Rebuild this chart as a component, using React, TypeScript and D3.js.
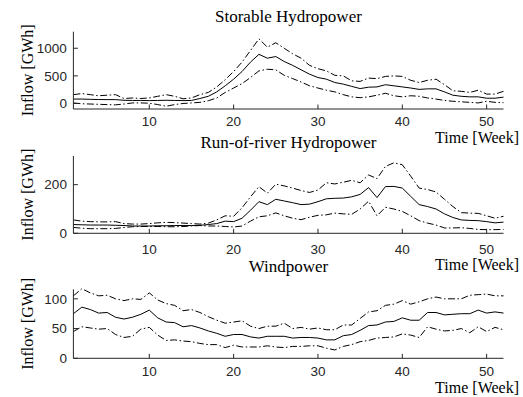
import React from "react";
import * as d3 from "d3";

// ---------- data ----------
const weeks = d3.range(1, 53);
const xTickValues = [10, 20, 30, 40, 50];

const storableMean = [80, 80, 75, 72, 70, 70, 58, 55, 55, 52, 55, 58, 55, 52, 55, 90, 130, 210, 320, 440, 580, 750, 890, 820, 850, 760, 690, 610, 530, 470, 440, 380, 350, 310, 270, 295, 300, 340, 320, 300, 280, 255, 265, 265, 210, 150, 130, 120, 120, 95, 95, 115];
const storableUpper = [160, 180, 160, 140, 150, 160, 90, 100, 90, 100, 130, 160, 130, 85, 100, 160, 200, 300, 430, 580, 750, 960, 1170, 1020, 1100, 1000, 900, 820, 690, 630, 590, 510, 500, 410, 400, 460, 450, 490, 500, 490, 420, 380, 420, 440, 340, 230, 220, 200, 240, 170, 170, 220];
const storableLower = [10, -5, -10, -15, -20, -25, -10, 10, 10, 5, -20, -50, -20, 0, 10, 20, 50, 100, 200, 280, 360, 470, 590, 620, 610, 510, 450, 390, 320, 280, 240, 210, 160, 120, 105, 120, 150, 185, 140, 120, 140, 130, 100, 80, 55, 40, 30, 20, 10, 40, 20, 15];

const rorMean = [36, 35, 34, 34, 34, 33, 32, 30, 30, 30, 31, 31, 32, 32, 32, 33, 36, 40, 50, 48, 62, 95, 130, 118, 140, 133, 126, 118, 120, 130, 142, 144, 145, 150, 160, 188, 147, 192, 193, 186, 152, 118, 110, 100, 80, 65, 55, 53, 52, 48, 43, 46];
const rorUpper = [55, 50, 48, 47, 47, 48, 40, 38, 38, 40, 43, 45, 44, 42, 40, 38, 42, 55, 72, 70, 105, 150, 192, 165, 202, 195, 186, 176, 168, 178, 208, 203, 210, 218, 208, 240, 225, 275, 290, 282, 235, 186, 180, 170, 140, 110, 85, 83, 82, 72, 62, 70];
const rorLower = [24, 21, 19, 19, 19, 20, 24, 27, 28, 28, 28, 27, 27, 28, 30, 32, 30, 30, 28, 26, 30, 50, 68, 72, 84, 72, 62, 56, 66, 74, 76, 83, 80, 78, 100, 132, 72, 107, 100, 90, 72, 52, 42, 34, 22, 22, 23, 20, 16, 15, 15, 16];

const windMean = [75, 86, 82, 76, 77, 69, 66, 69, 74, 81, 68, 61, 60, 53, 55, 51, 46, 42, 37, 40, 40, 36, 34, 37, 37, 37, 34, 35, 35, 34, 31, 31, 38, 40, 47, 55, 56, 61, 62, 68, 64, 64, 77, 77, 73, 74, 75, 75, 81, 76, 78, 76];
const windUpper = [105, 117, 110, 105, 106, 100, 97, 100, 99, 110, 98, 92, 89, 80, 82, 77, 70, 64, 59, 61, 63, 54, 50, 54, 54, 59, 50, 52, 49, 51, 48, 48, 56, 56, 67, 78, 80, 89, 91, 97, 91, 95, 100, 103, 100, 100, 100, 106, 107, 108, 105, 105];
const windLower = [45, 53, 51, 49, 50, 40, 35, 37, 49, 52, 39, 30, 31, 29, 28, 25, 23, 23, 18, 22, 19, 19, 19, 21, 19, 18, 20, 20, 21, 21, 17, 14, 20, 23, 28, 30, 34, 35, 36, 41, 39, 35, 53, 49, 46, 47, 50, 43, 53, 45, 52, 48];

const titles = ["Storable Hydropower", "Run-of-river Hydropower", "Windpower"];
const storableTicks = [0, 500, 1000];
const rorTicks = [0, 200];
const windTicks = [0, 50, 100];
const yLabel = "Inflow [GWh]";
const xLabel = "Time [Week]";

// ---------- layout ----------
const X0 = 73.4;
const X1 = 503.5;
const AXIS = "#262626";
const SERIF = "Liberation Serif, DejaVu Serif, serif";
const SANS = "Liberation Sans, Arial, sans-serif";

const panels = [
  { title: titles[0], mean: storableMean, upper: storableUpper, lower: storableLower, yDomain: [-100, 1300], yTicks: storableTicks, top: 31.7, bottom: 109, titleY: 22, tickY: 126, timeY: 143 },
  { title: titles[1], mean: rorMean, upper: rorUpper, lower: rorLower, yDomain: [0, 318], yTicks: rorTicks, top: 156, bottom: 233.3, titleY: 148, tickY: 254, timeY: 270 },
  { title: titles[2], mean: windMean, upper: windUpper, lower: windLower, yDomain: [0, 116], yTicks: windTicks, top: 289.3, bottom: 358.3, titleY: 272, tickY: 376, timeY: 393 },
];

const DASHDOT = "7,2.5,1.5,2.5";

function Panel({ p }: { p: any }) {
  const x = d3.scaleLinear().domain([1, 52]).range([X0, X1]);
  const y = d3.scaleLinear().domain(p.yDomain).range([p.bottom, p.top]);
  const line = d3
    .line<number>()
    .x((_, i) => x(weeks[i]))
    .y((d) => y(d));
  const cx = (X0 + X1) / 2;
  const cy = (p.top + p.bottom) / 2;
  const serif = { fontFamily: SERIF, fontSize: "16px" };
  const titleStyle = { fontFamily: SERIF, fontSize: "17px" };
  const sans = { fontFamily: SANS, fontSize: "13.5px" };
  return (
    <g>
      <text x={cx} y={p.titleY} textAnchor="middle" style={titleStyle} fill="#000">
        {p.title}
      </text>
      <text transform={`translate(33,${cy}) rotate(-90)`} textAnchor="middle" style={serif} fill="#000">
        {yLabel}
      </text>
      <text x={519} y={p.timeY} textAnchor="end" style={serif} fill="#000">
        {xLabel}
      </text>
      {/* data */}
      <path d={line(p.upper) || ""} fill="none" stroke="#000" strokeWidth={1} strokeDasharray={DASHDOT} />
      <path d={line(p.lower) || ""} fill="none" stroke="#000" strokeWidth={1} strokeDasharray={DASHDOT} />
      <path d={line(p.mean) || ""} fill="none" stroke="#000" strokeWidth={1} />
      {/* axes */}
      <line x1={X0} x2={X0} y1={p.top} y2={p.bottom} stroke={AXIS} strokeWidth={1} />
      <line x1={X0} x2={X1} y1={p.bottom} y2={p.bottom} stroke={AXIS} strokeWidth={1} />
      {p.yTicks.map((t: number) => (
        <g key={"y" + t}>
          <line x1={X0} x2={X0 + 4.5} y1={y(t)} y2={y(t)} stroke={AXIS} strokeWidth={1} />
          <text x={X0 - 6.5} y={y(t)} dy="0.35em" textAnchor="end" style={sans} fill={AXIS}>
            {t}
          </text>
        </g>
      ))}
      {xTickValues.map((t) => (
        <g key={"x" + t}>
          <line x1={x(t)} x2={x(t)} y1={p.bottom} y2={p.bottom - 4.5} stroke={AXIS} strokeWidth={1} />
          <text x={x(t)} y={p.tickY} textAnchor="middle" style={sans} fill={AXIS}>
            {t}
          </text>
        </g>
      ))}
    </g>
  );
}

export default function App() {
  return (
    <svg
      width={523}
      height={397}
      viewBox="0 0 523 397"
      style={{ position: "absolute", left: 0, top: 0, display: "block", background: "#fff" }}
    >
      <rect width={523} height={397} fill="#fff" />
      {panels.map((p, i) => (
        <Panel key={i} p={p} />
      ))}
    </svg>
  );
}
